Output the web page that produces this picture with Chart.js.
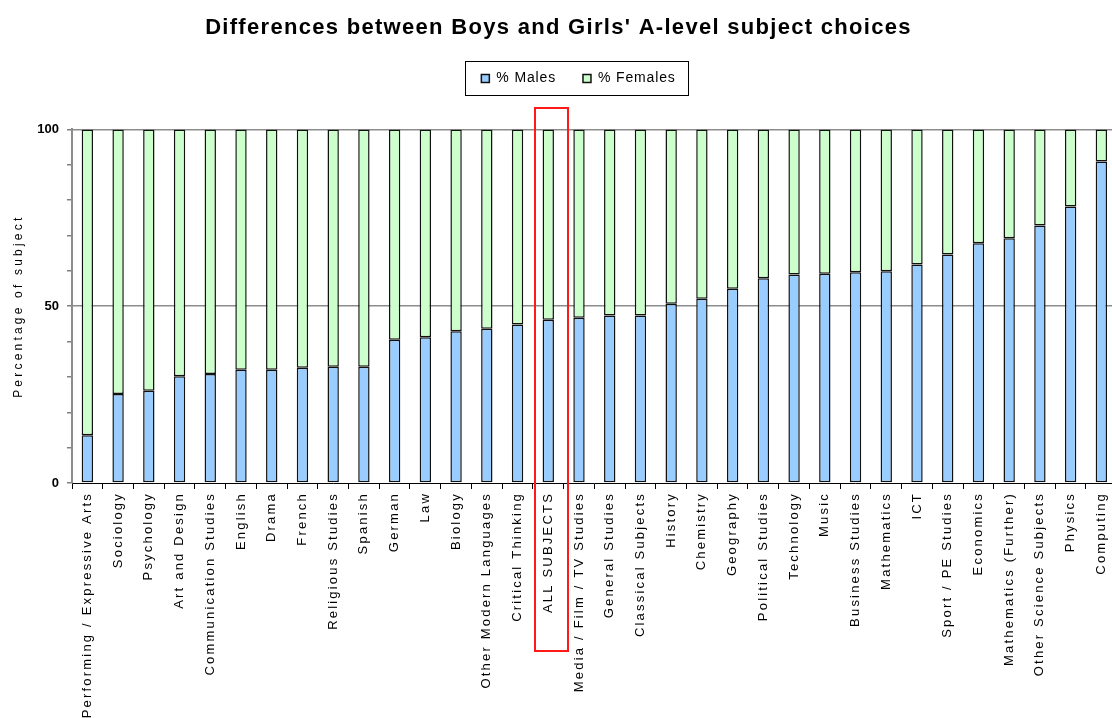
<!DOCTYPE html>
<html><head><meta charset="utf-8">
<script src="https://cdn.jsdelivr.net/npm/chart.js@4.4.1/dist/chart.umd.min.js"></script>
<style>html,body{margin:0;padding:0;background:#fff;overflow:hidden;width:1112px;height:718px}
#wrap{width:1120px;height:718px}</style></head>
<body><div id="wrap"><canvas id="c" width="1120" height="718"></canvas></div>
<script>
const categories = ['Performing / Expressive Arts','Sociology','Psychology','Art and Design','Communication Studies','English','Drama','French','Religious Studies','Spanish','German','Law','Biology','Other Modern Languages','Critical Thinking','ALL SUBJECTS','Media / Film / TV Studies','General Studies','Classical Subjects','History','Chemistry','Geography','Political Studies','Technology','Music','Business Studies','Mathematics','ICT','Sport / PE Studies','Economics','Mathematics (Further)','Other Science Subjects','Physics','Computing'];
const malesPct = [13.5,25.2,26.1,30.2,30.8,32.0,32.0,32.6,32.9,32.9,40.5,41.2,42.9,43.6,44.8,46.2,46.7,47.4,47.4,50.7,52.1,54.9,57.9,59.0,59.2,59.6,59.9,61.8,64.6,67.8,69.2,72.8,78.2,90.9];
const femalesPct = [86.5,74.8,73.9,69.8,69.2,68.0,68.0,67.4,67.1,67.1,59.5,58.8,57.1,56.4,55.2,53.8,53.3,52.6,52.6,49.3,47.9,45.1,42.1,41.0,40.8,40.4,40.1,38.2,35.4,32.2,30.8,27.2,21.8,9.1];
const yTickLabels = [0, 50, 100];
const seriesNames = ['% Males', '% Females'];
const chartTitle = "Differences between Boys and Girls' A-level subject choices";
const yAxisTitle = 'Percentage of subject';
const highlightCategory = 'ALL SUBJECTS';

const FONT = "'Liberation Sans', Arial, sans-serif";
const spacingFor = f => {
  if (f.indexOf('bold 22px') >= 0) return '1.3px';
  if (f.indexOf('bold') >= 0) return '0px';
  if (f.indexOf('13px') >= 0) return '2.2px';
  if (f.indexOf('12px') >= 0) return '3.2px';
  if (f.indexOf('14px') >= 0) return '0.85px';
  return '0px';
};
const canvas = document.getElementById('c');
const ctx = canvas.getContext('2d');
const fontDesc = Object.getOwnPropertyDescriptor(CanvasRenderingContext2D.prototype, 'font');
if ('letterSpacing' in ctx) {
  Object.defineProperty(ctx, 'font', {
    configurable: true,
    get() { return fontDesc.get.call(this); },
    set(v) { fontDesc.set.call(this, v); this.letterSpacing = spacingFor(v); }
  });
}

const decor = {
  id: 'decor',
  afterLayout(chart) {
    const lg = chart.legend;
    if (lg) { lg.top -= 34; lg.bottom -= 34; lg.left += 20; lg.right += 20; }
  },
  afterDraw(chart) {
    const c = chart.ctx;
    const lg = chart.legend;
    const hb = lg && lg.legendHitBoxes;
    if (hb && hb.length) {
      const l = Math.min(...hb.map(h => h.left)), r = Math.max(...hb.map(h => h.left + h.width));
      const t = Math.min(...hb.map(h => h.top)), b = Math.max(...hb.map(h => h.top + h.height));
      c.save(); c.strokeStyle = '#000'; c.lineWidth = 1;
      c.strokeRect(Math.round(l - 16) + 0.5, Math.round(t - 10) + 0.5, Math.round(r - l + 29), Math.round(b - t + 20));
      c.restore();
    }
    const xs = chart.scales.x, ca = chart.chartArea;
    const i = categories.indexOf(highlightCategory);
    const cx = xs.getPixelForValue(i);
    c.save(); c.strokeStyle = '#ff1a1a'; c.lineWidth = 2;
    c.strokeRect(Math.round(cx - 13), Math.round(ca.top - 21), 33, Math.round(ca.bottom - ca.top + 189));
    c.restore();
  }
};

new Chart(ctx, {
  type: 'bar',
  data: {
    labels: categories,
    datasets: [
      {label: seriesNames[0], data: malesPct, backgroundColor: '#99ccff', borderColor: '#111', borderWidth: 1.5, borderSkipped: false, barPercentage: 0.37, categoryPercentage: 1},
      {label: seriesNames[1], data: femalesPct, backgroundColor: '#ccffcc', borderColor: '#111', borderWidth: 1.5, borderSkipped: false, barPercentage: 0.37, categoryPercentage: 1}
    ]
  },
  options: {
    responsive: false,
    animation: false,
    events: [],
    layout: {padding: {left: 0, right: 3, top: 0, bottom: 0}},
    plugins: {
      tooltip: {enabled: false},
      title: {display: true, text: chartTitle, color: '#000', font: {family: FONT, size: 22, weight: 'bold'}, padding: {top: 15, bottom: 37}},
      legend: {display: true, position: 'top', labels: {boxWidth: 8, boxHeight: 8, padding: 27, color: '#000', font: {family: FONT, size: 14}}}
    },
    scales: {
      x: {
        stacked: true,
        grid: {offset: true, drawOnChartArea: false, drawTicks: true, tickLength: 6, color: '#000', lineWidth: 1},
        border: {display: true, color: '#000', width: 1},
        ticks: {autoSkip: false, maxRotation: 90, minRotation: 90, padding: 3, color: '#000', font: {family: FONT, size: 13}},
        afterFit(s) { s.height = 235; }
      },
      y: {
        stacked: true, min: 0, max: 100,
        ticks: {stepSize: 10, padding: 8, color: '#000', font: {family: FONT, size: 13, weight: 'bold'},
          callback: v => yTickLabels.includes(v) ? String(v) : ''},
        grid: {color: c => (c.tick && (c.tick.value === 50 || c.tick.value === 100)) ? '#8c8c8c' : 'rgba(0,0,0,0)', tickColor: '#808080', tickLength: 5, lineWidth: 1.5},
        border: {color: '#8c8c8c', width: 2},
        title: {display: true, text: yAxisTitle, color: '#000', font: {family: FONT, size: 12}, padding: {top: 11, bottom: 0}},
        afterFit(s) { s.width = 72; }
      }
    }
  },
  plugins: [decor]
});
</script>
</body></html>
